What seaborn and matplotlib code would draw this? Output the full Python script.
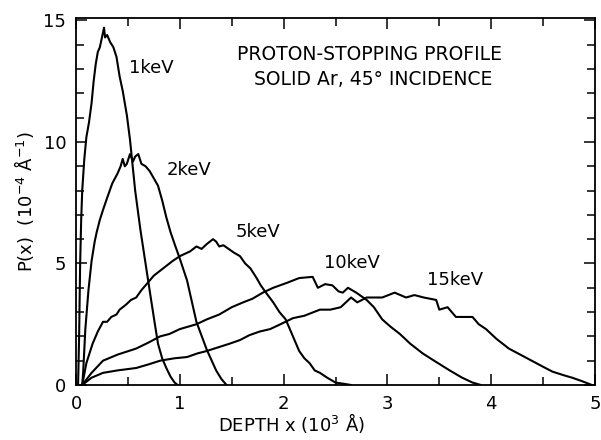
import numpy as np
import pandas as pd
import matplotlib
matplotlib.use("Agg")
import matplotlib.pyplot as plt
import seaborn as sns
from matplotlib.ticker import MultipleLocator

# ---- data ----
x_1kev = [0.02, 0.03, 0.04, 0.05, 0.06, 0.08, 0.10, 0.125, 0.15, 0.17, 0.19, 0.21, 0.23, 0.25,
          0.27, 0.28, 0.30, 0.33, 0.36, 0.39, 0.42, 0.45, 0.49, 0.52, 0.57, 0.62, 0.67, 0.72,
          0.76, 0.79, 0.83, 0.87, 0.91, 0.95, 0.98]
y_1kev = [0.0, 2.0, 5.0, 6.8, 8.0, 9.3, 10.2, 10.8, 11.6, 12.5, 13.2, 13.7, 13.9, 14.3,
          14.7, 14.3, 14.4, 14.1, 13.9, 13.5, 12.7, 12.1, 11.1, 10.1, 8.0, 6.4, 5.0, 3.6,
          2.5, 1.7, 1.1, 0.7, 0.35, 0.1, 0.0]

x_2kev = [0.06, 0.07, 0.09, 0.12, 0.15, 0.18, 0.20, 0.23, 0.26, 0.30, 0.35, 0.40, 0.43, 0.45,
          0.47, 0.49, 0.52, 0.55, 0.57, 0.60, 0.63, 0.67, 0.71, 0.75, 0.79, 0.83, 0.87, 0.91,
          0.95, 1.00, 1.07, 1.16, 1.26, 1.35, 1.40, 1.45]
y_2kev = [0.0, 0.6, 2.3, 3.9, 5.1, 5.9, 6.3, 6.8, 7.2, 7.7, 8.3, 8.7, 9.0, 9.3,
          9.0, 9.1, 9.5, 9.2, 9.4, 9.5, 9.1, 9.0, 8.8, 8.5, 8.2, 7.6, 6.9, 6.3,
          5.8, 5.2, 4.3, 2.6, 1.45, 0.6, 0.25, 0.0]

x_5kev = [0.06, 0.10, 0.16, 0.21, 0.26, 0.30, 0.34, 0.39, 0.42, 0.48, 0.53, 0.58, 0.63, 0.69,
          0.75, 0.81, 0.87, 0.93, 1.00, 1.05, 1.10, 1.16, 1.21, 1.26, 1.32, 1.35, 1.38, 1.42,
          1.47, 1.52, 1.58, 1.63, 1.68, 1.74, 1.78, 1.83, 1.90, 1.96, 2.02, 2.08, 2.15, 2.20,
          2.25, 2.30, 2.35, 2.42, 2.50, 2.58, 2.65]
y_5kev = [0.0, 0.9, 1.7, 2.2, 2.6, 2.6, 2.8, 2.9, 3.1, 3.3, 3.5, 3.6, 3.9, 4.2,
          4.5, 4.7, 4.9, 5.1, 5.3, 5.4, 5.5, 5.7, 5.6, 5.8, 6.0, 5.9, 5.7, 5.75,
          5.6, 5.45, 5.3, 5.0, 4.8, 4.4, 4.1, 3.8, 3.4, 3.0, 2.7, 2.1, 1.4, 1.1,
          0.9, 0.6, 0.5, 0.3, 0.1, 0.05, 0.0]

x_10kev = [0.06, 0.15, 0.26, 0.40, 0.58, 0.70, 0.81, 0.90, 1.00, 1.08, 1.16, 1.26, 1.38, 1.50,
           1.61, 1.70, 1.80, 1.90, 2.03, 2.15, 2.28, 2.33, 2.40, 2.47, 2.53, 2.57, 2.62, 2.70,
           2.80, 2.87, 2.95, 3.03, 3.12, 3.22, 3.34, 3.45, 3.60, 3.72, 3.82, 3.90]
y_10kev = [0.0, 0.5, 1.0, 1.25, 1.5, 1.75, 2.0, 2.1, 2.3, 2.4, 2.5, 2.7, 2.9, 3.2,
           3.4, 3.55, 3.8, 4.0, 4.2, 4.4, 4.45, 4.0, 4.15, 4.1, 3.85, 3.8, 4.0, 3.8,
           3.5, 3.2, 2.7, 2.4, 2.1, 1.7, 1.3, 1.0, 0.6, 0.3, 0.1, 0.0]

x_15kev = [0.06, 0.15, 0.26, 0.40, 0.58, 0.70, 0.81, 0.95, 1.07, 1.17, 1.26, 1.37, 1.48, 1.58,
           1.67, 1.77, 1.87, 1.97, 2.09, 2.20, 2.35, 2.45, 2.55, 2.65, 2.71, 2.80, 2.95, 3.07,
           3.18, 3.26, 3.35, 3.47, 3.50, 3.58, 3.66, 3.74, 3.82, 3.88, 3.95, 4.05, 4.17, 4.28,
           4.39, 4.50, 4.59, 4.70, 4.78, 4.88, 4.97]
y_15kev = [0.0, 0.3, 0.5, 0.6, 0.7, 0.85, 1.0, 1.1, 1.15, 1.3, 1.4, 1.55, 1.7, 1.85,
           2.05, 2.2, 2.3, 2.5, 2.75, 2.85, 3.1, 3.1, 3.2, 3.6, 3.4, 3.6, 3.6, 3.8,
           3.6, 3.7, 3.6, 3.5, 3.1, 3.2, 2.8, 2.8, 2.8, 2.5, 2.3, 1.9, 1.5, 1.25,
           1.0, 0.75, 0.55, 0.4, 0.3, 0.15, 0.0]

energies = ["1keV", "2keV", "5keV", "10keV", "15keV"]
label_x = [0.73, 1.09, 1.75, 2.66, 3.65]
label_y = [13.05, 8.85, 6.3, 5.0, 4.3]

x_ticks = [0, 1, 2, 3, 4, 5]
y_ticks = [0, 5, 10, 15]
title_lines = ["PROTON-STOPPING PROFILE", "SOLID Ar, 45° INCIDENCE"]

# ---- build long-form table ----
xs = [x_1kev, x_2kev, x_5kev, x_10kev, x_15kev]
ys = [y_1kev, y_2kev, y_5kev, y_10kev, y_15kev]
frames = []
for e, xv, yv in zip(energies, xs, ys):
    frames.append(pd.DataFrame({"depth": xv, "P": yv, "energy": e}))
df = pd.concat(frames, ignore_index=True)

sns.set_style("ticks")
plt.rcParams["font.family"] = ["DejaVu Sans"]
plt.rcParams["text.color"] = "black"
plt.rcParams["axes.labelcolor"] = "black"

fig = plt.figure(figsize=(6.01, 4.40), dpi=100)
ax = fig.add_axes([76 / 601, 1 - 385 / 440, (595 - 76) / 601, (385 - 18) / 440])

sns.lineplot(data=df, x="depth", y="P", hue="energy", hue_order=energies,
             palette=["black"] * 5, estimator=None, sort=False, legend=False,
             linewidth=1.5, ax=ax)

ax.set_xlim(0, 5)
ax.set_ylim(0, 15.1)
ax.set_xticks(x_ticks)
ax.set_yticks(y_ticks)
ax.set_xticklabels([str(t) for t in x_ticks])
ax.set_yticklabels([str(t) for t in y_ticks])
ax.xaxis.set_minor_locator(MultipleLocator(0.5))
ax.yaxis.set_minor_locator(MultipleLocator(1))
ax.tick_params(which="both", direction="in", top=True, right=True, width=1.1,
               labelsize=13, colors="black")
ax.tick_params(which="major", length=8, pad=7)
ax.tick_params(which="minor", length=6)
for s in ax.spines.values():
    s.set_linewidth(1.3)
    s.set_color("black")

ax.set_xlabel("DEPTH x (10$^3$ Å)", fontsize=13, color="black")
ax.xaxis.set_label_coords(0.416, -0.072)
ax.set_ylabel("P(x)  (10$^{-4}$ Å$^{-1}$)", fontsize=13, color="black")
ax.yaxis.set_label_coords(-0.078, 0.5)

ax.text(2.83, 13.6, title_lines[0], fontsize=13.5, ha="center", va="center", color="black")
ax.text(2.86, 12.55, title_lines[1], fontsize=13.5, ha="center", va="center", color="black")

for lab, lx, ly in zip(energies, label_x, label_y):
    ax.text(lx, ly, lab, fontsize=13, ha="center", va="center", color="black")

fig.savefig("out.png", dpi=100)
